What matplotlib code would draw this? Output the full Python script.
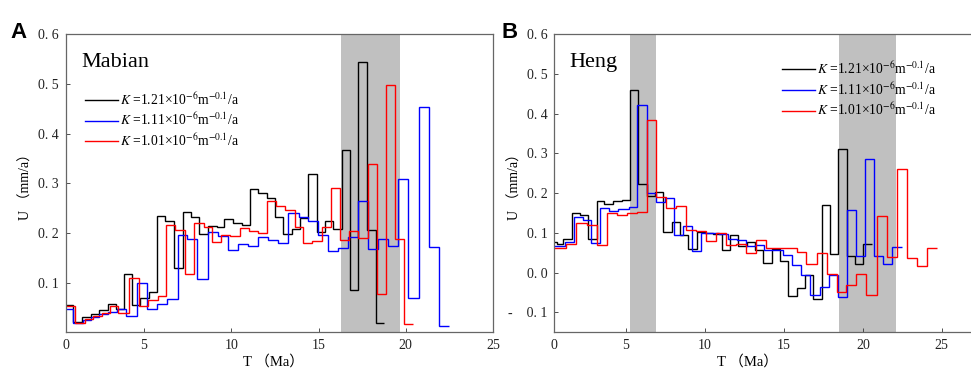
import matplotlib
matplotlib.use('Agg')
import matplotlib.pyplot as plt

plt.rcParams['font.family'] = ['Liberation Serif', 'Noto Sans CJK SC']
plt.rcParams['mathtext.fontset'] = 'stix'

# ---- panel A: Mabian ----
a_black_edges = [0.5, 0.95, 1.43, 1.96, 2.44, 2.96, 3.38, 3.87, 4.3, 4.77, 5.31, 5.76, 6.22, 6.74, 7.21,
                 7.69, 8.17, 8.65, 9.16, 9.6, 10.1, 10.6, 11.07, 11.55, 12.03, 12.5, 12.98, 13.46, 13.93,
                 14.41, 14.89, 15.37, 15.84, 16.32, 16.8, 17.28, 17.79, 18.27, 18.75]
a_black_u = [0.055, 0.021, 0.030, 0.037, 0.044, 0.056, 0.046, 0.117, 0.055, 0.070, 0.082, 0.235, 0.225,
             0.129, 0.243, 0.232, 0.197, 0.214, 0.211, 0.229, 0.221, 0.216, 0.288, 0.280, 0.270, 0.233,
             0.197, 0.208, 0.230, 0.318, 0.201, 0.224, 0.208, 0.368, 0.085, 0.544, 0.206, 0.018]

a_blue_edges = [0.5, 0.95, 1.49, 1.96, 2.44, 2.96, 3.47, 4.0, 4.62, 5.19, 5.73, 6.3, 6.93, 7.45, 8.02,
                8.65, 9.26, 9.8, 10.4, 10.97, 11.55, 12.1, 12.69, 13.27, 13.86, 14.41, 14.98, 15.56, 16.13,
                16.7, 17.28, 17.85, 18.42, 18.99, 19.56, 20.14, 20.75, 21.32, 21.9, 22.47]
a_blue_u = [0.046, 0.018, 0.025, 0.030, 0.036, 0.041, 0.046, 0.033, 0.099, 0.046, 0.057, 0.068, 0.196,
            0.187, 0.108, 0.202, 0.194, 0.166, 0.178, 0.174, 0.191, 0.186, 0.179, 0.240, 0.233, 0.225,
            0.195, 0.164, 0.169, 0.191, 0.264, 0.168, 0.187, 0.174, 0.308, 0.070, 0.454, 0.171, 0.013]

a_red_edges = [0.5, 1.05, 1.62, 2.1, 2.61, 3.05, 3.53, 4.16, 4.73, 5.25, 5.78, 6.26, 6.78, 7.35, 7.88,
               8.44, 8.9, 9.43, 9.95, 10.48, 10.99, 11.51, 12.05, 12.57, 13.09, 13.63, 14.12, 14.65, 15.18,
               15.71, 16.23, 16.74, 17.28, 17.81, 18.33, 18.86, 19.38, 19.89, 20.43]
a_red_u = [0.052, 0.019, 0.026, 0.033, 0.039, 0.052, 0.039, 0.109, 0.052, 0.064, 0.074, 0.215, 0.206,
           0.117, 0.221, 0.212, 0.181, 0.196, 0.193, 0.210, 0.204, 0.199, 0.264, 0.255, 0.247, 0.212,
           0.180, 0.184, 0.211, 0.290, 0.185, 0.204, 0.190, 0.338, 0.077, 0.498, 0.188, 0.016]

a_bands = [(16.3, 19.65)]

# ---- panel B: Heng ----
b_black_edges = [0.44, 0.61, 1.03, 1.56, 2.09, 2.62, 3.15, 3.63, 4.2, 4.73, 5.26, 5.78, 6.31, 6.84, 7.37,
                 7.9, 8.42, 8.95, 9.48, 10.0, 10.53, 11.06, 11.59, 12.12, 12.64, 13.17, 13.7, 14.23, 14.76,
                 15.28, 15.81, 16.34, 16.87, 17.39, 17.92, 18.45, 18.98, 19.5, 20.03, 20.56]
b_black_u = [0.078, 0.072, 0.085, 0.151, 0.145, 0.084, 0.180, 0.172, 0.180, 0.182, 0.460, 0.222, 0.192,
             0.203, 0.102, 0.127, 0.094, 0.060, 0.103, 0.100, 0.098, 0.058, 0.095, 0.067, 0.077, 0.057,
             0.025, 0.060, 0.029, -0.059, -0.039, -0.007, -0.067, 0.171, 0.046, 0.312, 0.042, 0.023, 0.071]

b_blue_edges = [0.44, 1.14, 1.71, 2.26, 2.81, 3.36, 3.9, 4.52, 5.17, 5.72, 6.31, 6.9, 7.47, 8.04, 8.59,
                9.16, 9.74, 10.31, 10.89, 11.46, 12.04, 12.62, 13.19, 13.77, 14.35, 14.92, 15.5, 16.07,
                16.65, 17.29, 17.86, 18.41, 18.98, 19.55, 20.14, 20.71, 21.3, 21.87, 22.46]
b_blue_u = [0.068, 0.077, 0.139, 0.133, 0.075, 0.162, 0.155, 0.160, 0.166, 0.423, 0.201, 0.177, 0.188,
            0.095, 0.117, 0.055, 0.100, 0.100, 0.098, 0.086, 0.083, 0.066, 0.070, 0.056, 0.058, 0.045,
            0.020, -0.005, -0.057, -0.036, -0.006, -0.061, 0.157, 0.042, 0.286, 0.041, 0.021, 0.065]

b_red_edges = [0.46, 1.2, 1.84, 2.52, 3.15, 3.78, 4.42, 5.05, 5.68, 6.31, 6.9, 7.54, 8.17, 8.8, 9.45,
               10.08, 10.72, 11.35, 11.99, 12.62, 13.26, 13.89, 14.53, 15.16, 15.8, 16.43, 17.07, 17.7,
               18.34, 18.94, 19.57, 20.2, 20.88, 21.51, 22.14, 22.78, 23.41, 24.04, 24.68]
b_red_u = [0.063, 0.071, 0.125, 0.120, 0.070, 0.150, 0.144, 0.150, 0.152, 0.384, 0.190, 0.162, 0.169,
           0.108, 0.105, 0.079, 0.100, 0.070, 0.071, 0.050, 0.082, 0.063, 0.063, 0.063, 0.052, 0.021,
           0.050, -0.004, -0.049, -0.032, -0.004, -0.055, 0.142, 0.039, 0.261, 0.038, 0.018, 0.061]

b_bands = [(5.28, 6.88), (18.49, 22.08)]

k_values = ['1.21', '1.11', '1.01']
line_colors = ['black', '#0000ff', '#ff0000']
x_ticks = ['0', '5', '10', '15', '20', '25']


def draw_panel(ax, series, bands, xlim, ylim, yticks, ylabels, name, leg_anchor, xlabel_x):
    for lo, hi in bands:
        ax.axvspan(lo, hi, color='#c0c0c0', lw=0, zorder=0)
    for (edges, u), k, c in zip(series, k_values, line_colors):
        ax.stairs(u, edges, baseline=None, color=c, lw=1.0,
                  label=r'$K$ =' + k + r'×10$^{-6}$m$^{-0.1}$/a')
    ax.set_xlim(*xlim)
    ax.set_ylim(*ylim)
    ax.set_xticks([xlim[0], 5, 10, 15, 20, 25])
    ax.set_xticklabels(x_ticks)
    ax.set_yticks(yticks)
    ax.set_yticklabels(ylabels)
    ax.tick_params(direction='in', length=3, width=0.6, labelsize=10, pad=5, colors='#333333',
                   labelcolor='#222222')
    for s in ax.spines.values():
        s.set_color('#666666')
        s.set_linewidth(0.9)
    ax.text(0.036, 0.905, name, transform=ax.transAxes, fontsize=16, va='center')
    ax.legend(loc='upper left', bbox_to_anchor=leg_anchor, frameon=False, fontsize=9.8,
              handlelength=2.45, handletextpad=0.15, labelspacing=0.3, borderpad=0, borderaxespad=0)
    ax.set_ylabel('U （mm/a）', fontsize=10)
    ax.yaxis.set_label_coords(-0.077, 0.5)
    ax.set_xlabel('T （Ma）', fontsize=10.5)
    ax.xaxis.set_label_coords(xlabel_x, -0.075)


fig = plt.figure(figsize=(9.71, 3.69), dpi=100)
ax_a = fig.add_axes([0.0677, 0.0995, 0.4401, 0.8076])
ax_b = fig.add_axes([0.5709, 0.0995, 0.4315, 0.8076])

draw_panel(ax_a, [(a_black_edges, a_black_u), (a_blue_edges, a_blue_u), (a_red_edges, a_red_u)],
           a_bands, (0.52, 25), (0, 0.6), [0.1, 0.2, 0.3, 0.4, 0.5, 0.6],
           ['0. 1', '0. 2', '0. 3', '0. 4', '0. 5', '0. 6'], 'Mabian', (0.045, 0.81), 0.485)
draw_panel(ax_b, [(b_black_edges, b_black_u), (b_blue_edges, b_blue_u), (b_red_edges, b_red_u)],
           b_bands, (0.46, 27), (-0.15, 0.6), [-0.1, 0.0, 0.1, 0.2, 0.3, 0.4, 0.5, 0.6],
           ['-    0. 1', '0. 0', '0. 1', '0. 2', '0. 3', '0. 4', '0. 5', '0. 6'], 'Heng', (0.543, 0.913), 0.462)

fig.text(0.0103, 0.897, 'A', fontsize=16, weight='bold', family='Liberation Sans')
fig.text(0.516, 0.897, 'B', fontsize=16, weight='bold', family='Liberation Sans')

fig.savefig('out.png', dpi=100)
